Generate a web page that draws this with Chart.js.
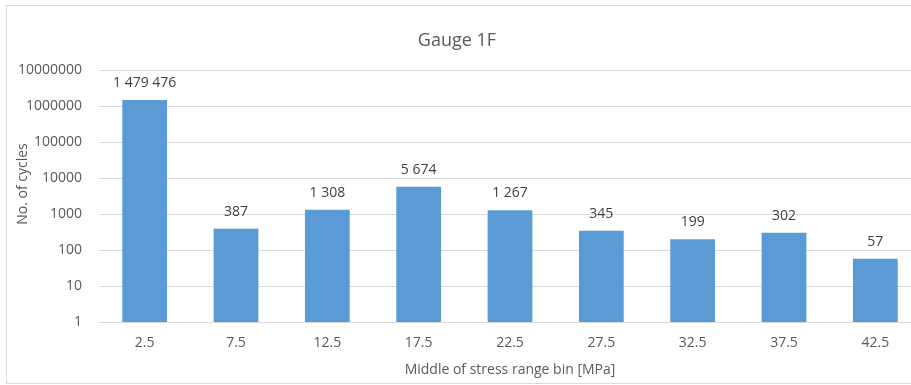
<!DOCTYPE html>
<html>
<head>
<meta charset="utf-8">
<script src="https://cdn.jsdelivr.net/npm/chart.js@4/dist/chart.umd.min.js"></script>
<style>
  html, body { margin: 0; padding: 0; background: #fff; overflow: hidden; }
  #wrap {
    position: absolute; left: 6px; top: 5px;
    width: 925px; height: 377px;
    border: 1px solid #d9d9d9;
  }
</style>
</head>
<body>
<div id="wrap"><canvas id="chart" width="925" height="377"></canvas></div>
<script>
// data
const bins = ['2.5', '7.5', '12.5', '17.5', '22.5', '27.5', '32.5', '37.5', '42.5'];
const cycles = [1479476, 387, 1308, 5674, 1267, 345, 199, 302, 57];
const yTicks = [1, 10, 100, 1000, 10000, 100000, 1000000, 10000000];

const textGrey = '#595959';
const fontFam = '"Open Sans", "Noto Sans", sans-serif';

function spaced(v) {
  return String(v).replace(/\B(?=(\d{3})+(?!\d))/g, ' ');
}

// labels above each bar, chart title and y title
const extras = {
  id: 'extras',
  afterDatasetsDraw(chart) {
    const ctx = chart.ctx;
    const meta = chart.getDatasetMeta(0);
    ctx.save();
    ctx.font = '14px ' + fontFam;
    ctx.fillStyle = '#404040';
    ctx.textAlign = 'center';
    ctx.textBaseline = 'middle';
    meta.data.forEach((bar, i) => {
      ctx.fillText(spaced(cycles[i]), bar.x, bar.y - 17);
    });

    ctx.fillStyle = textGrey;
    ctx.font = '18px ' + fontFam;
    ctx.fillText('Gauge 1F', 450, 35);

    ctx.font = '14px ' + fontFam;
    ctx.translate(16, 178);
    ctx.rotate(-Math.PI / 2);
    ctx.fillText('No. of cycles', 0, 0);
    ctx.restore();
  }
};

new Chart(document.getElementById('chart'), {
  type: 'bar',
  data: {
    labels: bins,
    datasets: [{
      data: cycles,
      backgroundColor: '#5B9BD5',
      barPercentage: 0.49,
      categoryPercentage: 1
    }]
  },
  options: {
    responsive: false,
    animation: false,
    layout: { padding: { left: 0, right: 11, top: 64, bottom: 0 } },
    plugins: {
      legend: { display: false },
      tooltip: { enabled: false },
      title: { display: false }
    },
    scales: {
      x: {
        grid: { display: false, drawTicks: false },
        border: { color: '#d9d9d9' },
        ticks: { color: textGrey, font: { family: fontFam, size: 14 }, padding: 13 },
        title: {
          display: true,
          text: 'Middle of stress range bin [MPa]',
          color: textGrey,
          font: { family: fontFam, size: 14 },
          padding: { top: 4, bottom: 5 }
        },
        afterFit(scale) { scale.height = 61; }
      },
      y: {
        type: 'logarithmic',
        min: 1,
        max: 10000000,
        afterBuildTicks(scale) {
          scale.ticks = yTicks.map(v => ({ value: v }));
        },
        grid: { color: '#d9d9d9', drawTicks: false },
        border: { display: false },
        ticks: {
          color: textGrey,
          font: { family: fontFam, size: 14 },
          padding: 17,
          callback: v => String(v)
        },
        afterFit(scale) { scale.width = 92; }
      }
    }
  },
  plugins: [extras]
});
</script>
</body>
</html>
